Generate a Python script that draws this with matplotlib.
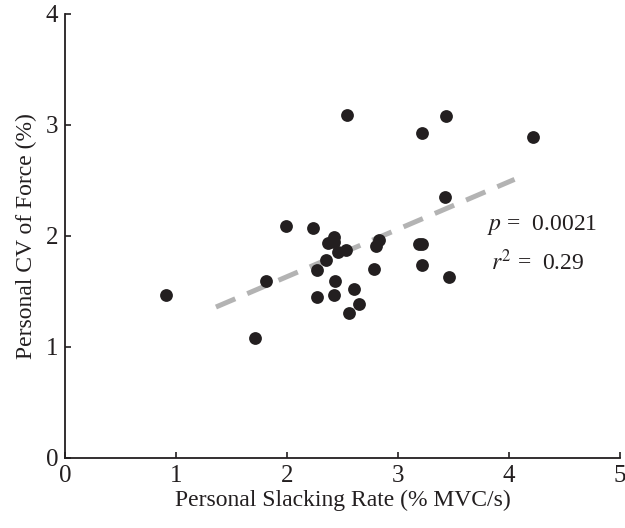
import numpy as np
import matplotlib
matplotlib.use('Agg')
import matplotlib.pyplot as plt

plt.rcParams['font.family'] = ['Liberation Serif', 'DejaVu Serif']
plt.rcParams['mathtext.fontset'] = 'stix'

# Slacking rate (% MVC/s) vs CV of force (%)
slack_rate = [0.91, 1.71, 1.81, 1.99, 2.23, 2.27, 2.27, 2.35, 2.37, 2.42,
              2.42, 2.43, 2.42, 2.46, 2.53, 2.54, 2.56, 2.60, 2.65, 2.78,
              2.80, 2.83, 3.19, 3.22, 3.22, 3.22, 3.42, 3.43, 3.46, 4.22]
cv_force = [1.47, 1.08, 1.59, 2.09, 2.07, 1.69, 1.45, 1.78, 1.94, 1.99,
            1.95, 1.59, 1.47, 1.86, 1.87, 3.09, 1.31, 1.52, 1.39, 1.70,
            1.91, 1.96, 1.93, 1.93, 1.74, 2.93, 2.35, 3.08, 1.63, 2.89]

# fitted trend line endpoints
fit_x = [1.36, 4.05]
fit_y = [1.36, 2.51]

fig = plt.figure(figsize=(6.25, 5.28), dpi=100)
ax = fig.add_axes([0.104, 0.1326, 0.888, 0.8409])

ax.plot(fit_x, fit_y, color='#b3b3b3', lw=3.6, dashes=(4.2, 2.6), zorder=1)
ax.scatter(slack_rate, cv_force, s=85, color='#231f20', zorder=2, linewidths=0)

ax.set_xlim(0, 5)
ax.set_ylim(0, 4)
ax.set_xticks([0, 1, 2, 3, 4, 5])
ax.set_yticks([0, 1, 2, 3, 4])
for s in ['top', 'right']:
    ax.spines[s].set_visible(False)
for s in ['left', 'bottom']:
    ax.spines[s].set_linewidth(1.3)
    ax.spines[s].set_color('#231f20')
ax.tick_params(direction='in', length=4, width=1.2, labelsize=18, colors='#231f20', pad=5)
ax.set_xlabel('Personal Slacking Rate (% MVC/s)', fontsize=17, color='#231f20', labelpad=2)
ax.set_ylabel('Personal CV of Force (%)', fontsize=17, color='#231f20', labelpad=6)

ax.text(3.80, 2.10, r'$p$ =  0.0021', fontsize=17, color='#231f20', va='center')
ax.text(3.84, 1.76, r'$r^2$ =  0.29', fontsize=17, color='#231f20', va='center')

fig.savefig('out.png', dpi=100)
